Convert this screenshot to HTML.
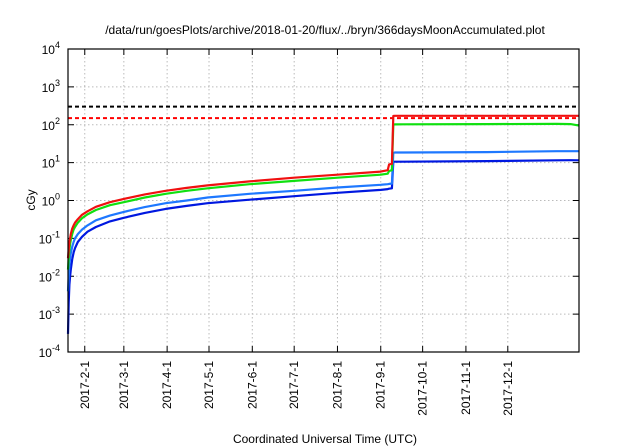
<!DOCTYPE html>
<html><head><meta charset="utf-8"><style>
body{margin:0;background:#fff}
svg{display:block;font-family:"Liberation Sans",sans-serif}
</style></head><body>
<svg id="c" width="640" height="448">
<text x="325" y="34" font-size="12" text-anchor="middle">/data/run/goesPlots/archive/2018-01-20/flux/../bryn/366daysMoonAccumulated.plot</text>
<text x="325" y="443" font-size="12" text-anchor="middle">Coordinated Universal Time (UTC)</text>
<text transform="translate(35,200) rotate(-90)" font-size="12" text-anchor="middle">cGy</text>
<g id="grid"></g><g id="axes"></g><g id="series"></g>
<rect x="68" y="49" width="511" height="303" fill="none" stroke="#000" stroke-width="1.2"/>
</svg>
<script>
const monthLabels=["2017-2-1","2017-3-1","2017-4-1","2017-5-1","2017-6-1","2017-7-1","2017-8-1","2017-9-1","2017-10-1","2017-11-1","2017-12-1"];
const monthDays=[12,40,71,101,132,162,193,224,254,285,315];
const yExps=[-4,-3,-2,-1,0,1,2,3,4];
const days=[0,0.5,1,1.5,2,3,4,5,7,10,14,20,30,40,55,70,85,100,130,162,193,224,229,230,232,233,234,240,300,350,360,366];
const red=[0.03,0.05,0.08,0.1,0.13,0.18,0.22,0.26,0.32,0.42,0.52,0.68,0.9,1.1,1.45,1.8,2.15,2.5,3.2,4,4.8,5.8,6.3,9,9.3,170,172,172,172,172,172,172];
const green=[0.015,0.03,0.05,0.07,0.09,0.13,0.17,0.2,0.26,0.34,0.43,0.56,0.75,0.9,1.2,1.5,1.8,2.1,2.7,3.3,4,4.8,5.1,6,6.3,100,102,103,104,105,104,95];
const lblue=[0.004,0.01,0.02,0.03,0.04,0.06,0.08,0.1,0.13,0.17,0.22,0.3,0.4,0.5,0.67,0.85,1.0,1.2,1.5,1.8,2.2,2.6,2.7,2.75,2.8,18,18.5,18.5,19,20,20,20];
const blue=[0.0003,0.002,0.006,0.01,0.015,0.028,0.042,0.055,0.08,0.11,0.15,0.2,0.28,0.35,0.47,0.6,0.72,0.85,1.05,1.3,1.6,1.9,2.0,2.05,2.1,10.5,10.6,10.6,11,11.5,11.6,11.5];
const thresholds=[300,150];
const X0=68,X1=579,Y0=352,Y1=49,D=366;
const xs=d=>X0+(X1-X0)*d/D;
const ys=v=>Y0-(Y0-Y1)*(Math.log10(v)+4)/8;
const NS="http://www.w3.org/2000/svg";
function mk(t,a,p){const e=document.createElementNS(NS,t);for(const k in a)e.setAttribute(k,a[k]);p.appendChild(e);return e;}
const g=document.getElementById('grid'),ax=document.getElementById('axes'),s=document.getElementById('series');
yExps.forEach((p,i)=>{const y=ys(Math.pow(10,p));
 if(i>0&&i<yExps.length-1){const l=mk('line',{x1:X0,x2:X1,y1:y,y2:y,stroke:'#bbb','stroke-dasharray':'1.5,2.5'},g);
 
 }
 const t1=mk('line',{x1:X0,x2:X0+6,y1:y,y2:y,stroke:'#000'},ax);
 
 
 const t2=mk('line',{x1:X1-6,x2:X1,y1:y,y2:y,stroke:'#000'},ax);
 
 
 const tx=mk('text',{x:X0-8,y:y+5,'text-anchor':'end','font-size':12},ax);
 
 
 tx.textContent='10';const sp=mk('tspan',{dy:-6,'font-size':9},tx);sp.textContent=String(p);});
monthDays.forEach((d,i)=>{const x=xs(d);
 const l=mk('line',{x1:x,x2:x,y1:Y1,y2:Y0,stroke:'#bbb','stroke-dasharray':'1.5,2.5'},g);
 
 
 const t1=mk('line',{x1:x,x2:x,y1:Y0-6,y2:Y0,stroke:'#000'},ax);
 
 
 const t2=mk('line',{x1:x,x2:x,y1:Y1,y2:Y1+6,stroke:'#000'},ax);
 
 
 const tx=mk('text',{transform:`translate(${x+4},${Y0+9}) rotate(-90)`,'text-anchor':'end','font-size':12},ax);
 
 
 tx.textContent=monthLabels[i];});
const thrColors=['#000','#f00'];
thresholds.forEach((v,i)=>{const y=ys(v);
 const l=mk('line',{x1:X0,x2:X1,y1:y,y2:y,stroke:thrColors[i],'stroke-width':2,'stroke-dasharray':'4,3'},s);
 
 });
[[blue,'#0018e0','series-blue'],[lblue,'#1e78ff','series-light-blue'],[green,'#10e010','series-green'],[red,'#f01010','series-red']].forEach(([arr,c,n])=>{
 const pts=days.map((d,i)=>xs(d).toFixed(1)+','+ys(arr[i]).toFixed(1)).join(' ');
 const pl=mk('polyline',{points:pts,fill:'none',stroke:c,'stroke-width':2.2,'stroke-linejoin':'round'},s);
 
 });
</script>
</body></html>
